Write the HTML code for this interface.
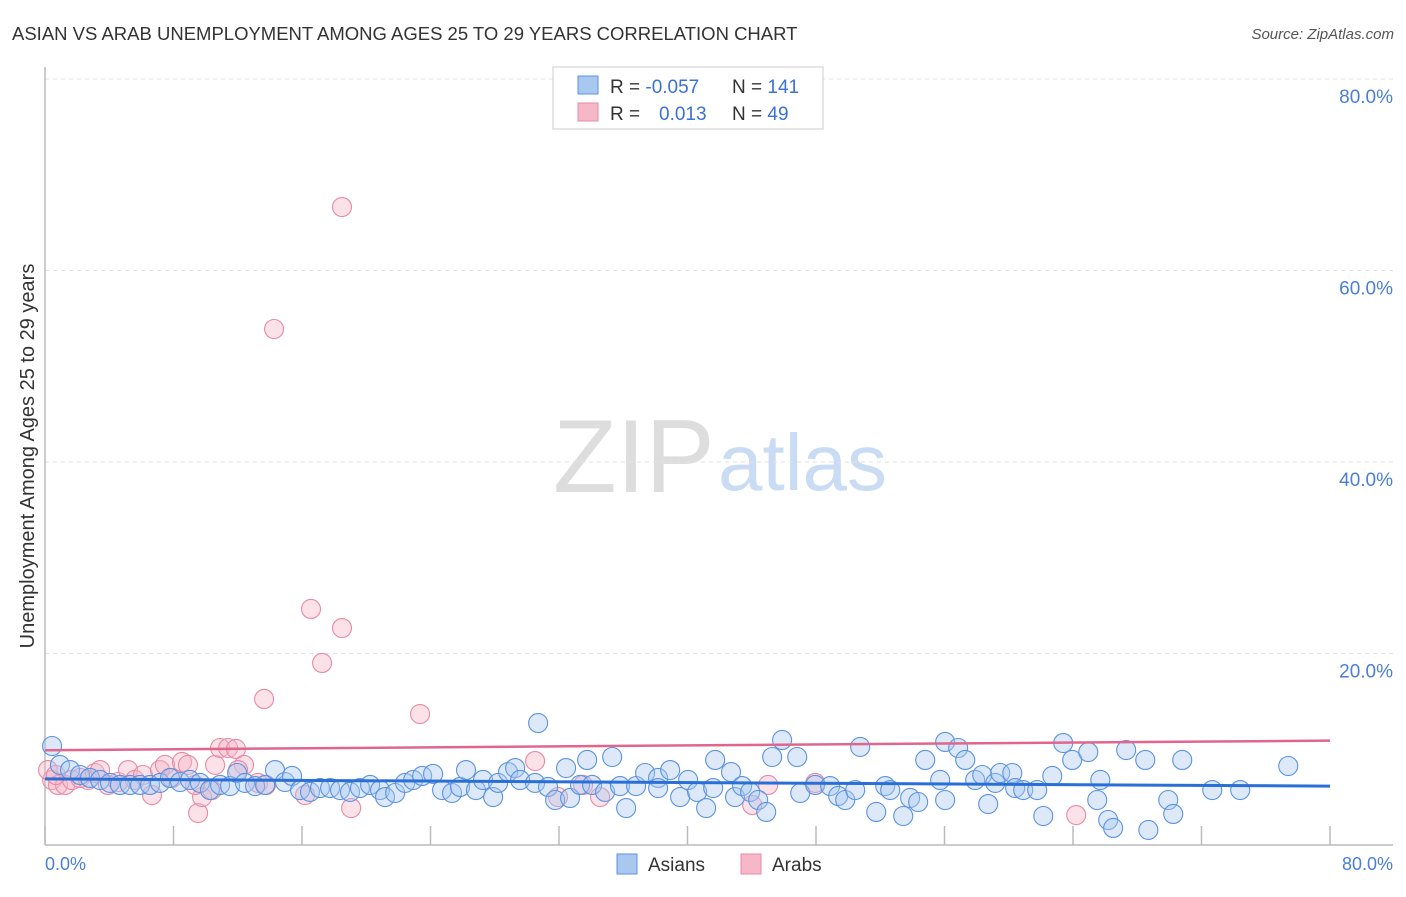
<!DOCTYPE html>
<html><head><meta charset="utf-8"><style>
body{margin:0;background:#fff;font-family:"Liberation Sans",sans-serif;}
svg text{font-family:"Liberation Sans",sans-serif;}
</style></head><body>
<svg id="chart" width="1406" height="892">
<text x="12" y="40" font-size="18.5" fill="#333">ASIAN VS ARAB UNEMPLOYMENT AMONG AGES 25 TO 29 YEARS CORRELATION CHART</text>
<text x="1394" y="39" font-size="15" fill="#555" font-style="italic" text-anchor="end">Source: ZipAtlas.com</text>
<text x="553" y="492" font-size="104" fill="#ddd" font-family="Liberation Serif,serif">ZIP</text>
<text x="718" y="490" font-size="80" fill="#c9dcf3">atlas</text>
<g id="grid"></g>
<g id="axes"></g>
<g id="marks"></g>
<text transform="translate(34,456) rotate(-90)" font-size="20" fill="#333" text-anchor="middle">Unemployment Among Ages 25 to 29 years</text>
<text x="45" y="870" font-size="18" fill="#4a7fd6">0.0%</text>
<text x="1393" y="870" font-size="18" fill="#4a7fd6" text-anchor="end">80.0%</text>
<g>
<rect x="553" y="67" width="270" height="62" fill="#fff" stroke="#ccc"/>
<rect x="578" y="76" width="20" height="18" fill="#a9c8f0" stroke="#5b93e0"/>
<rect x="578" y="103" width="20" height="18" fill="#f6b7c9" stroke="#e88aa6"/>
<text x="610" y="93" font-size="19" fill="#333">R = <tspan fill="#3a72d6">-0.057</tspan></text>
<text x="732" y="93" font-size="19" fill="#333">N = <tspan fill="#3a72d6">141</tspan></text>
<text x="610" y="120" font-size="19" fill="#333">R = </text>
<text x="659" y="120" font-size="19" fill="#3a72d6">0.013</text>
<text x="732" y="120" font-size="19" fill="#333">N = <tspan fill="#3a72d6"> 49</tspan></text>
</g>
<g>
<rect x="617" y="854" width="20" height="20" fill="#a9c8f0" stroke="#5b93e0"/>
<text x="648" y="871" font-size="19" fill="#333">Asians</text>
<rect x="741" y="854" width="20" height="20" fill="#f6b7c9" stroke="#e88aa6"/>
<text x="772" y="871" font-size="19" fill="#333">Arabs</text>
</g>
</svg>
<script>
const yTicks=[20,40,60,80];
const yTickLabels=["20.0%","40.0%","60.0%","80.0%"];
const xTicks=[0,8,16,24,32,40,48,56,64,72,80];
const asianX=[0.44,0.93,1.56,2.18,2.80,3.43,4.05,4.67,5.29,5.92,6.54,7.16,7.78,8.41,9.03,9.65,10.27,10.90,11.52,11.96,12.45,13.08,13.70,14.32,14.94,15.38,15.88,16.50,17.12,17.75,18.37,18.99,19.61,20.24,20.86,21.17,21.80,22.42,22.92,23.48,24.16,24.72,25.34,25.84,26.21,26.83,27.27,27.90,28.21,28.83,29.27,29.58,30.51,30.70,31.32,31.76,32.44,32.69,33.31,33.75,34.06,34.87,35.31,35.80,36.18,36.80,37.36,38.17,38.17,38.92,39.54,40.04,40.60,41.16,41.60,41.72,42.71,42.96,43.40,43.90,44.40,44.90,45.27,45.89,46.83,47.02,47.95,48.88,49.38,49.82,50.44,50.75,51.75,52.31,52.62,53.43,53.86,54.36,54.80,55.73,56.04,56.04,56.85,57.29,57.91,58.35,59.16,58.72,59.47,60.22,60.40,60.90,62.15,61.77,62.71,63.39,63.95,64.95,65.51,65.70,66.19,66.50,67.31,68.50,68.69,69.93,70.24,70.80,72.67,74.41,77.40];
const asianY=[10.34,8.36,7.83,7.31,7.0,6.79,6.48,6.27,6.27,6.27,6.27,6.48,7.0,6.58,6.79,6.48,5.74,6.27,6.16,7.52,6.48,6.16,6.27,7.83,6.58,7.21,5.74,5.54,5.95,5.95,5.74,5.54,5.95,6.27,5.74,5.01,5.43,6.48,6.79,7.21,7.42,5.74,5.43,6.06,7.83,5.74,6.79,5.01,6.48,7.62,8.04,6.79,6.48,12.74,6.06,4.70,8.04,4.91,6.27,8.88,6.27,5.54,9.19,6.16,3.86,6.16,7.52,7.0,5.95,7.83,5.01,6.79,5.54,3.86,5.95,8.88,7.62,5.01,6.16,5.54,4.70,3.45,9.19,10.97,9.19,5.43,6.27,6.16,5.12,4.70,5.74,10.24,3.45,6.16,5.74,3.03,4.91,4.49,8.88,6.79,4.70,10.76,10.13,8.88,6.79,7.31,6.48,4.28,7.52,7.52,5.95,5.74,3.03,5.74,7.21,10.65,8.88,9.71,4.70,6.79,2.61,1.78,9.92,8.88,1.57,4.70,3.24,8.88,5.74,5.74,8.25];
const arabX=[0.44,0.81,1.25,1.68,2.18,2.68,3.11,3.43,3.92,4.55,5.17,5.60,6.10,6.66,7.16,7.47,7.91,8.53,8.90,9.53,9.78,10.40,10.59,10.90,11.40,11.89,12.39,12.02,13.26,13.64,13.76,14.26,16.19,16.56,17.25,18.49,18.49,19.06,23.35,30.51,31.94,33.50,34.56,44.03,45.02,47.95,64.20,0.19,0.68,9.34];
const arabY=[6.79,6.27,6.27,6.79,7.0,6.79,7.52,7.83,6.27,6.58,7.83,6.79,7.31,5.22,7.83,8.36,7.0,8.67,8.36,3.34,5.01,5.74,8.36,10.13,10.13,10.03,8.36,7.83,6.48,15.25,6.27,53.89,5.22,24.65,19.01,66.63,22.66,3.86,13.68,8.77,5.01,6.27,5.01,4.18,6.27,6.48,3.13,7.83,7.31,6.27];
const asianTrendX=[0,80], asianTrendY=[6.9,6.15];
const arabTrendX=[0,80], arabTrendY=[9.9,10.9];
const X0=45,X1=1330,Y0=845,Y1=79;
function sx(v){return X0+(v/80)*(X1-X0);}
function sy(v){return Y0-(v/80)*(Y0-Y1);}
const NS="http://www.w3.org/2000/svg";
function mk(tag,attrs,parent){const e=document.createElementNS(NS,tag);for(const k in attrs)e.setAttribute(k,attrs[k]);parent.appendChild(e);return e;}
const grid=document.getElementById('grid'),axes=document.getElementById('axes'),marks=document.getElementById('marks');
yTicks.forEach((t,i)=>{
 const l=mk('line',{x1:X0,x2:1393,y1:sy(t),y2:sy(t),stroke:'#e2e2e2','stroke-dasharray':'4,4'},grid);
 
 
 const tx=mk('text',{x:1393,y:sy(t)+24,'font-size':19,fill:'#4a7fd6','text-anchor':'end'},grid);
 tx.textContent=yTickLabels[i];
 
 
});
const ax=mk('line',{x1:X0,x2:1393,y1:Y0,y2:Y0,stroke:'#bbb','stroke-width':1.5},axes);


const ay=mk('line',{x1:X0,x2:X0,y1:67,y2:Y0,stroke:'#bbb','stroke-width':1.5},axes);


xTicks.forEach(t=>{
 const l=mk('line',{x1:sx(t),x2:sx(t),y1:Y0-19,y2:Y0,stroke:'#bbb','stroke-width':1.5},axes);
 
 
});
function pts(xs,ys,fill,stroke,name){
 xs.forEach((x,i)=>{
  const c=mk('circle',{cx:sx(x),cy:sy(ys[i]),r:9.5,fill:fill,'fill-opacity':0.4,stroke:stroke,'stroke-width':1.1},marks);
  
  
 });
}
pts(arabX,arabY,'#f6b7c9','#e88aa6','arab-point');
pts(asianX,asianY,'#a9c8f0','#5b93e0','asian-point');
const tb=mk('line',{x1:sx(asianTrendX[0]),y1:sy(asianTrendY[0]),x2:sx(asianTrendX[1]),y2:sy(asianTrendY[1]),stroke:'#2a6fd6','stroke-width':3},marks);


const tp=mk('line',{x1:sx(arabTrendX[0]),y1:sy(arabTrendY[0]),x2:sx(arabTrendX[1]),y2:sy(arabTrendY[1]),stroke:'#e0668d','stroke-width':2.5},marks);


</script>
</body></html>
